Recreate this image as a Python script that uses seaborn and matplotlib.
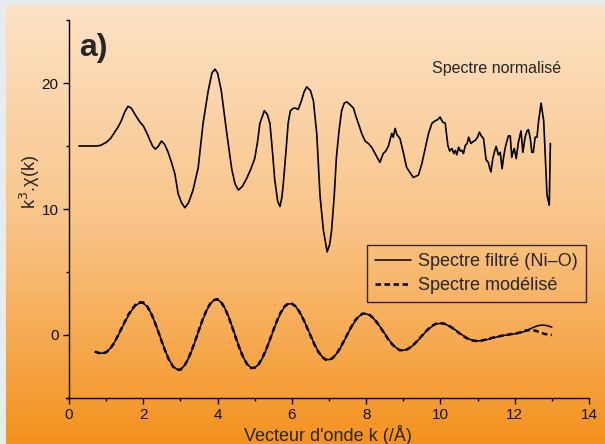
import numpy as np
import pandas as pd
import matplotlib
matplotlib.use("Agg")
import matplotlib.pyplot as plt
from matplotlib.lines import Line2D
from matplotlib.colors import LinearSegmentedColormap
from matplotlib.ticker import MultipleLocator
import seaborn as sns

# Normalised EXAFS spectrum k^3.chi(k), shifted by +15
k_norm = [0.27, 0.5, 0.74, 0.85, 1.01, 1.12, 1.23, 1.32, 1.41, 1.5, 1.59, 1.68, 1.8, 1.91,
          2.0, 2.1, 2.18, 2.26, 2.33, 2.41, 2.49, 2.58, 2.67, 2.76, 2.85, 2.94, 3.03, 3.12,
          3.22, 3.34, 3.48, 3.61, 3.75, 3.85, 3.93, 4.0, 4.1, 4.24, 4.38, 4.47, 4.56, 4.67,
          4.78, 4.9, 5.0, 5.08, 5.14, 5.26, 5.34, 5.41, 5.48, 5.54, 5.62, 5.68, 5.73, 5.77,
          5.84, 5.9, 5.96, 6.04, 6.1, 6.17, 6.26, 6.33, 6.4, 6.5, 6.58, 6.67, 6.76, 6.85,
          6.95, 7.02, 7.07, 7.14, 7.2, 7.27, 7.34, 7.41, 7.48, 7.56, 7.66, 7.72, 7.79, 7.88,
          7.97, 8.06, 8.15, 8.26, 8.37, 8.46, 8.53, 8.6, 8.69, 8.73, 8.78, 8.83, 8.91, 9.0,
          9.09, 9.18, 9.27, 9.34, 9.41, 9.5, 9.59, 9.68, 9.77, 9.86, 9.93, 9.99, 10.06, 10.13,
          10.2, 10.25, 10.31, 10.36, 10.4, 10.44, 10.49, 10.54, 10.58, 10.62, 10.67, 10.72,
          10.76, 10.82, 10.88, 10.94, 11.0, 11.05, 11.1, 11.16, 11.23, 11.29, 11.33, 11.36,
          11.41, 11.46, 11.5, 11.56, 11.61, 11.66, 11.7, 11.74, 11.79, 11.83, 11.88, 11.92,
          11.96, 11.99, 12.04, 12.1, 12.17, 12.22, 12.28, 12.33, 12.37, 12.42, 12.46, 12.5,
          12.55, 12.6, 12.64, 12.71, 12.78, 12.84, 12.87, 12.93, 12.96]
chi_norm = [15.0, 15.0, 15.0, 15.05, 15.3, 15.6, 16.1, 16.5, 17.0, 17.7, 18.15, 18.0, 17.4, 16.9,
            16.6, 16.0, 15.45, 14.95, 14.75, 15.0, 15.4, 15.1, 14.5, 13.7, 12.8, 11.2, 10.5, 10.1,
            10.5, 11.5, 13.3, 16.8, 19.4, 20.8, 21.1, 20.8, 19.4, 16.2, 13.2, 12.0, 11.5, 11.8,
            12.4, 13.2, 14.0, 15.4, 16.8, 17.8, 17.5, 16.8, 14.5, 12.3, 10.6, 10.2, 10.9, 12.0,
            14.5, 16.8, 17.8, 18.0, 18.0, 17.9, 18.6, 19.3, 19.7, 19.4, 18.6, 16.0, 11.0, 8.3,
            6.6, 7.2, 8.3, 11.0, 14.1, 16.2, 17.8, 18.4, 18.5, 18.3, 18.0, 17.4, 16.8, 16.0,
            15.4, 15.2, 14.9, 14.3, 13.7, 14.4, 14.6, 15.0, 16.0, 15.7, 16.4, 15.9, 15.6, 14.5,
            13.3, 12.9, 12.5, 12.6, 12.7, 13.6, 14.8, 16.0, 16.8, 17.0, 17.1, 17.3, 16.9, 16.8,
            15.05, 14.6, 14.8, 14.4, 14.65, 14.3, 14.9, 14.6, 14.65, 14.4, 15.05, 15.2,
            15.7, 15.2, 15.35, 15.45, 15.7, 16.1, 15.8, 15.6, 13.9, 13.7, 13.2, 12.95,
            14.0, 14.6, 14.97, 14.3, 14.5, 13.2, 14.1, 14.8, 15.4, 15.8, 15.8, 14.1,
            14.6, 14.8, 14.0, 15.3, 16.2, 14.5, 15.7, 16.2, 16.3, 15.6, 14.5, 14.5,
            15.7, 15.7, 16.9, 18.4, 17.0, 13.1, 11.1, 10.3, 15.2]

# Fourier-filtered Ni-O shell and its fitted model, sampled every 0.1 from k = 0.7
chi_filtre = [-1.35, -1.42, -1.45, -1.36, -1.10, -0.70, -0.18, 0.40, 0.99, 1.55, 2.01, 2.35, 2.53,
              2.52, 2.26, 1.78, 1.10, 0.31, -0.51, -1.30, -1.98, -2.46, -2.72,
              -2.72, -2.46, -1.96, -1.28, -0.48, 0.38, 1.20, 1.91, 2.45, 2.75,
              2.81, 2.59, 2.11, 1.43, 0.62, -0.25, -1.09, -1.80, -2.32, -2.60,
              -2.60, -2.35, -1.88, -1.23, -0.47, 0.34, 1.10, 1.75, 2.22, 2.47,
              2.47, 2.27, 1.87, 1.32, 0.68, 0.00, -0.67, -1.24, -1.67, -1.92,
              -1.96, -1.82, -1.50, -1.06, -0.51, 0.06, 0.62, 1.10, 1.46, 1.66,
              1.68, 1.56, 1.31, 0.97, 0.55, 0.11, -0.33, -0.70, -0.99, -1.17,
              -1.21, -1.14, -0.97, -0.72, -0.42, -0.10, 0.23, 0.51, 0.74, 0.88,
              0.92, 0.88, 0.77, 0.61, 0.41, 0.19, -0.02, -0.21, -0.36, -0.45,
              -0.47, -0.45, -0.40, -0.33, -0.25, -0.17, -0.10, -0.04, 0.01, 0.05,
              0.09, 0.14, 0.22, 0.33, 0.46, 0.60, 0.72, 0.78, 0.78, 0.72, 0.62]
chi_modele = [-1.33, -1.42, -1.46, -1.38, -1.12, -0.70, -0.16, 0.44, 1.04, 1.60, 2.07, 2.42, 2.60,
              2.58, 2.30, 1.80, 1.10, 0.30, -0.54, -1.34, -2.02, -2.50, -2.76,
              -2.76, -2.48, -1.96, -1.26, -0.44, 0.42, 1.24, 1.95, 2.48, 2.78,
              2.84, 2.60, 2.10, 1.41, 0.58, -0.29, -1.13, -1.83, -2.34, -2.62,
              -2.60, -2.34, -1.86, -1.20, -0.44, 0.37, 1.13, 1.78, 2.25, 2.50,
              2.49, 2.28, 1.86, 1.30, 0.65, -0.03, -0.70, -1.27, -1.70, -1.95,
              -1.98, -1.83, -1.50, -1.04, -0.48, 0.09, 0.65, 1.13, 1.49, 1.69,
              1.71, 1.58, 1.32, 0.96, 0.53, 0.08, -0.36, -0.73, -1.02, -1.20,
              -1.23, -1.15, -0.96, -0.70, -0.39, -0.06, 0.27, 0.55, 0.78, 0.92,
              0.95, 0.90, 0.78, 0.60, 0.39, 0.16, -0.05, -0.24, -0.38, -0.46,
              -0.47, -0.44, -0.38, -0.30, -0.22, -0.15, -0.09, -0.03, 0.02, 0.07,
              0.11, 0.17, 0.26, 0.35, 0.40, 0.38, 0.30, 0.19, 0.09, 0.03, 0.00]
k_fit = np.round(0.7 + 0.1 * np.arange(len(chi_filtre)), 1)

x_ticks = [0, 2, 4, 6, 8, 10, 12, 14]
y_ticks = [0, 10, 20]

sns.set_style("ticks")
plt.rcParams["font.family"] = ["Liberation Sans", "DejaVu Sans"]

fig = plt.figure(figsize=(6.05, 4.44), dpi=100)
fig.patch.set_facecolor("#e9ecec")

# peach-to-orange gradient panel behind the plot
bg = fig.add_axes([6 / 605, 0, 599 / 605, 439 / 444], zorder=-10)
cmap = LinearSegmentedColormap.from_list("peach", ["#fde2c6", "#f9c488", "#f4921e"])
bg.imshow(np.linspace(0, 1, 256).reshape(-1, 1), aspect="auto", cmap=cmap,
          extent=[0, 1, 0, 1], origin="upper")
bg.set_axis_off()

ax = fig.add_axes([66 / 605, 1 - 398 / 444, (589 - 66) / 605, (398 - 20) / 444])
ax.set_facecolor("none")

df_norm = pd.DataFrame({"k": k_norm, "chi": chi_norm})
df_fit = pd.DataFrame({"k": k_fit, "filtre": chi_filtre, "modele": chi_modele})

sns.lineplot(data=df_norm, x="k", y="chi", ax=ax, color="black", lw=1.2,
             sort=False, estimator=None)
sns.lineplot(data=df_fit, x="k", y="modele", ax=ax, color="black", lw=1.8,
             linestyle=(0, (2.2, 1.4)), sort=False, estimator=None)
sns.lineplot(data=df_fit, x="k", y="filtre", ax=ax, color="black", lw=1.1,
             sort=False, estimator=None)

ax.set_xlim(-0.08, 14)
ax.set_ylim(-5, 25)
ax.spines["left"].set_position(("data", 0))
ax.spines["left"].set_bounds(-5, 25)
sns.despine(ax=ax)
for s in ("left", "bottom"):
    ax.spines[s].set_linewidth(1.0)
    ax.spines[s].set_color("black")

ax.set_xticks(x_ticks)
ax.set_yticks(y_ticks)
ax.xaxis.set_minor_locator(MultipleLocator(1))
ax.yaxis.set_minor_locator(MultipleLocator(5))
ax.tick_params(which="major", direction="out", length=4.5, width=1.0, color="black",
               labelsize=11, pad=3, labelcolor="#111111")
ax.tick_params(which="minor", direction="out", length=2.5, width=1.0, color="black")

ax.set_xlabel("Vecteur d'onde k (/Å)", fontsize=13, labelpad=2)
ax.set_ylabel("k$^3$.χ(k)", fontsize=13)
ax.yaxis.set_label_coords(-0.045, 0.571)

ax.text(0.025, 0.925, "a)", transform=ax.transAxes, fontsize=23, fontweight="bold",
        va="center", ha="left")
ax.text(0.7, 0.872, "Spectre normalisé", transform=ax.transAxes, fontsize=11.5,
        va="center", ha="left")

handles = [Line2D([], [], color="black", lw=1.1),
           Line2D([], [], color="black", lw=1.8, linestyle=(0, (2.2, 1.4)))]
leg = ax.legend(handles, ["Spectre filtré (Ni–O)", "Spectre modélisé"],
                loc="upper right", bbox_to_anchor=(0.994, 0.405), borderaxespad=0,
                fontsize=13, frameon=True, fancybox=False, handlelength=2.0,
                handletextpad=0.4, borderpad=0.45, labelspacing=0.4)
frame = leg.get_frame()
frame.set_facecolor("none")
frame.set_edgecolor("black")
frame.set_linewidth(1.0)

fig.savefig("out.png", dpi=100)
